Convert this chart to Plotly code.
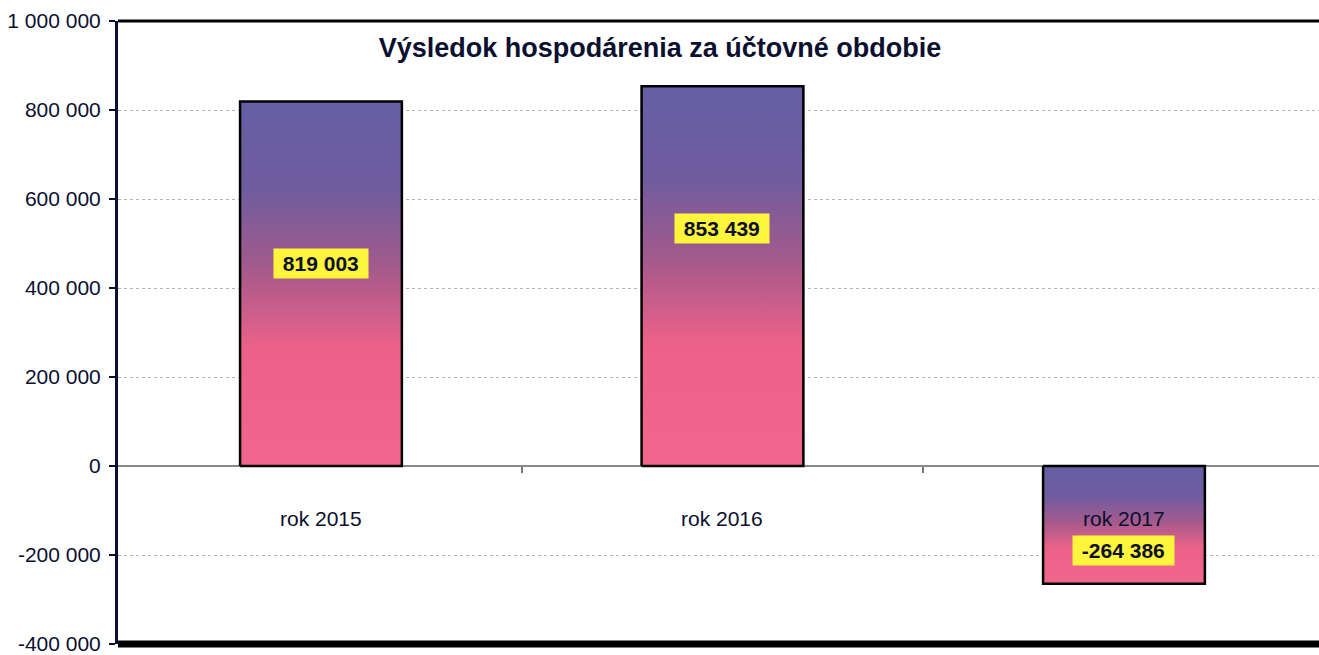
import plotly.graph_objects as go

# ---- data ----
categories = ["rok 2015", "rok 2016", "rok 2017"]
values = [819003, 853439, -264386]
y_ticks = [-400000, -200000, 0, 200000, 400000, 600000, 800000, 1000000]
title_text = "Výsledok hospodárenia za účtovné obdobie"

# ---- style ----
FONT = "Liberation Sans, Arial, sans-serif"
TXT = "#0b0f30"
BAR_W = 0.403
GRAD = [[0.0, "#f0668c"], [0.33, "#ec6189"], [0.55, "#a35a8c"],
        [0.76, "#6f5c9f"], [1.0, "#665fa4"]]
LABEL_FRAC = [0.557, 0.625, 0.722]  # manual label placement (fraction of bar height)


def fmt(v):
    return f"{v:,}".replace(",", " ")


fig = go.Figure()

for i, (cat, v) in enumerate(zip(categories, values)):
    x0, x1 = i - BAR_W / 2, i + BAR_W / 2
    fig.add_trace(go.Scatter(
        x=[x0, x1, x1, x0, x0],
        y=[0, 0, v, v, 0],
        mode="lines",
        fill="toself",
        fillgradient=dict(type="vertical", colorscale=GRAD,
                          start=min(0, v), stop=max(0, v)),
        line=dict(color="#000000", width=2.5),
        name=cat,
        hoverinfo="skip",
        showlegend=False,
    ))

annotations = []
for i, (cat, v) in enumerate(zip(categories, values)):
    # category labels below the zero line
    annotations.append(dict(
        x=i, y=0, xref="x", yref="y", text=cat, showarrow=False,
        yshift=-52, font=dict(family=FONT, size=21, color=TXT),
    ))
    # value labels in yellow boxes
    annotations.append(dict(
        x=i, y=v * LABEL_FRAC[i], xref="x", yref="y",
        text="<b>\u00a0" + fmt(v) + "\u00a0</b>", showarrow=False,
        bgcolor="#fff53c", borderpad=3,
        font=dict(family=FONT, size=21, color=TXT),
    ))

fig.update_layout(
    width=1319, height=655,
    margin=dict(l=118, r=0, t=21, b=8),
    paper_bgcolor="#ffffff", plot_bgcolor="#ffffff",
    showlegend=False,
    title=dict(text="<b>" + title_text + "</b>", x=660 / 1319, xanchor="center",
               y=1 - 48 / 655, yanchor="middle",
               font=dict(family=FONT, size=27, color=TXT)),
    xaxis=dict(range=[-0.5055, 2.4857], tickvals=[0.5, 1.5], showticklabels=False,
               ticks="outside", ticklen=6, tickcolor="#777777", tickwidth=1.5,
               showgrid=False, zeroline=False, showline=False,
               anchor="free", position=(0 - y_ticks[0]) / (y_ticks[-1] - y_ticks[0]),
               fixedrange=True),
    yaxis=dict(range=[y_ticks[0], y_ticks[-1]], tickvals=y_ticks,
               ticktext=[fmt(t) for t in y_ticks],
               tickfont=dict(family=FONT, size=21, color=TXT),
               ticks="outside", ticklen=6, tickcolor=TXT, tickwidth=1.5,
               ticklabelstandoff=4, ticklabeloverflow="allow",
               showline=True, linecolor=TXT, linewidth=3,
               showgrid=True, gridcolor="#b5b5b5", gridwidth=1, griddash="dot",
               zeroline=True, zerolinecolor="#8a8a8a", zerolinewidth=1.5,
               fixedrange=True),
    annotations=annotations,
    shapes=[
        dict(type="line", xref="paper", yref="paper", x0=0, x1=1, y0=1, y1=1,
             line=dict(color="#000000", width=3)),
        dict(type="line", xref="paper", yref="paper", x0=0, x1=1, y0=0, y1=0,
             line=dict(color="#000000", width=7)),
    ],
)

fig.write_html("out.html", config={"displayModeBar": False},
               post_script="document.body.style.margin='0';document.body.style.overflow='hidden';")
